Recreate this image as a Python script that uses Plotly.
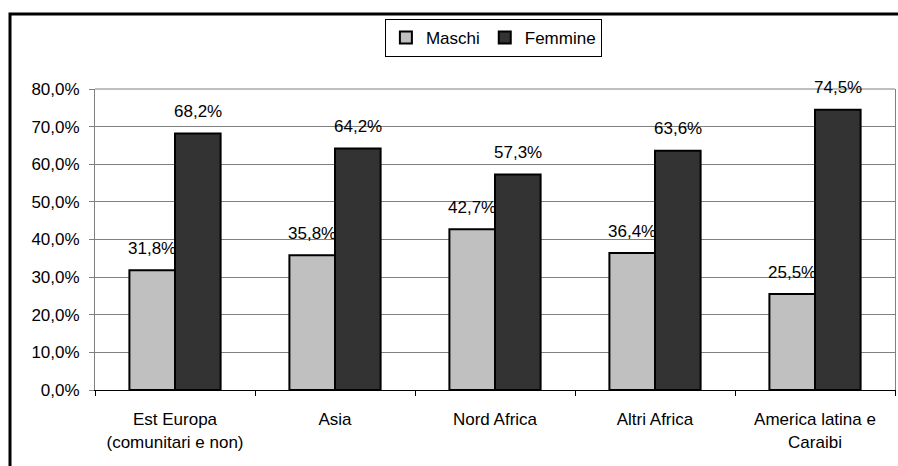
import plotly.graph_objects as go

categories = ["Est Europa<br>(comunitari e non)", "Asia", "Nord Africa", "Altri Africa", "America latina e<br>Caraibi"]
maschi = [31.8, 35.8, 42.7, 36.4, 25.5]
femmine = [68.2, 64.2, 57.3, 63.6, 74.5]
tick_vals = [0, 10, 20, 30, 40, 50, 60, 70, 80]
tick_text = ["0,0%", "10,0%", "20,0%", "30,0%", "40,0%", "50,0%", "60,0%", "70,0%", "80,0%"]

FONT = "Liberation Sans, Arial, sans-serif"
FS = 17

def fmt(v):
    return ("%.1f%%" % v).replace(".", ",")

fig = go.Figure()
fig.add_trace(go.Bar(name="Maschi", x=categories, y=maschi,
                     marker=dict(color="#C0C0C0", line=dict(color="black", width=2))))
fig.add_trace(go.Bar(name="Femmine", x=categories, y=femmine,
                     marker=dict(color="#333333", line=dict(color="black", width=2))))

# data labels above bars
for series, shift in ((maschi, -23), (femmine, 23)):
    for c, v in zip(categories, series):
        fig.add_annotation(x=c, y=v, text=fmt(v), showarrow=False,
                           xshift=shift, yshift=22, yanchor="middle",
                           font=dict(family=FONT, size=FS, color="black"))

# outer chart border (partially cropped)
fig.add_shape(type="rect", xref="paper", yref="paper",
              x0=-0.10625, x1=1.05, y0=-0.4, y1=1.249,
              line=dict(color="black", width=3), fillcolor="rgba(0,0,0,0)", layer="below")
# plot area top border
fig.add_shape(type="line", xref="paper", yref="paper", x0=0, x1=1, y0=1, y1=1,
              line=dict(color="#808080", width=1))

fig.update_layout(
    width=898, height=466,
    margin=dict(l=95, r=3, t=89, b=76),
    paper_bgcolor="white", plot_bgcolor="white",
    barmode="group", bargap=0.43, bargroupgap=0,
    font=dict(family=FONT, size=FS, color="black"),
    showlegend=True,
    legend=dict(orientation="h", x=0.498, xanchor="center", y=1.2326, yanchor="top",
                bordercolor="black", borderwidth=1, bgcolor="white",
                font=dict(family=FONT, size=FS, color="black"),
                itemwidth=30, traceorder="normal"),
    xaxis=dict(showline=True, linecolor="black", linewidth=1,
               ticks="outside", ticklen=5, tickcolor="black", tickson="boundaries",
               ticklabelstandoff=14,
               showgrid=False, tickfont=dict(family=FONT, size=FS, color="black")),
    yaxis=dict(range=[0, 80], tickvals=tick_vals, ticktext=tick_text,
               showline=True, linecolor="#808080", linewidth=1, mirror=True,
               ticks="outside", ticklen=5, tickcolor="#808080",
               ticklabelstandoff=6,
               showgrid=True, gridcolor="#808080", gridwidth=1, zeroline=False,
               tickfont=dict(family=FONT, size=FS, color="black")),
)

fig.write_html("out.html", config={"displayModeBar": False},
               post_script="document.body.style.margin='0px';document.body.style.overflow='hidden';")
